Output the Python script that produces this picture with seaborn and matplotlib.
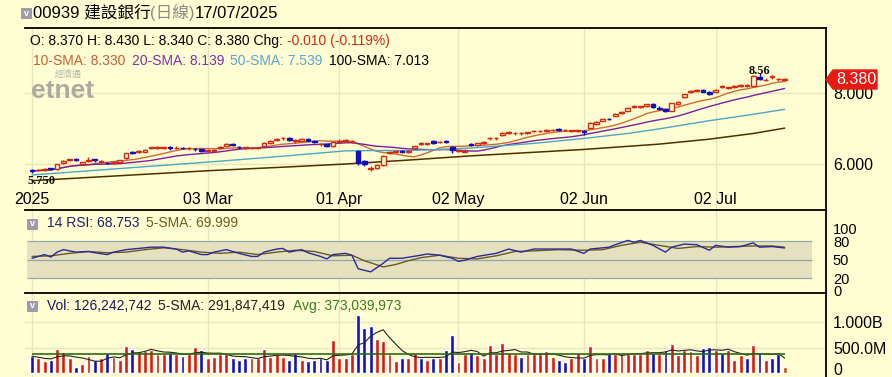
import numpy as np
import pandas as pd
import matplotlib
matplotlib.use("Agg")
import matplotlib.pyplot as plt
import matplotlib.transforms as mtransforms
from matplotlib.patches import Rectangle, Polygon
import seaborn as sns

# ---------------- data ----------------
opens = [5.83,5.82,5.83,5.88,5.86,6.03,6.10,6.14,6.00,6.09,
         6.14,6.06,6.04,6.02,6.05,6.17,6.35,6.33,6.35,6.44,
         6.46,6.46,6.47,6.45,6.46,6.44,6.42,6.41,6.37,6.37,
         6.45,6.52,6.56,6.48,6.46,6.45,6.45,6.50,6.58,6.67,
         6.72,6.73,6.65,6.66,6.70,6.66,6.56,6.55,6.50,6.62,
         6.64,6.62,6.38,6.08,5.87,5.90,5.97,6.30,6.35,6.38,
         6.34,6.44,6.56,6.55,6.64,6.62,6.66,6.48,6.37,6.35,
         6.57,6.54,6.58,6.72,6.73,6.82,6.88,6.86,6.87,6.88,
         6.92,6.93,6.94,6.95,6.99,6.95,6.92,6.92,6.94,7.00,
         7.12,7.22,7.28,7.36,7.43,7.50,7.61,7.61,7.62,7.70,
         7.58,7.55,7.50,7.68,7.88,8.03,8.07,8.09,8.03,8.04,
         8.18,8.13,8.18,8.21,8.20,8.20,8.44,8.36,8.46,8.39,
         8.37]
closes = [5.80,5.83,5.86,5.85,5.99,6.08,6.13,6.10,6.05,6.10,
          6.10,6.06,6.03,6.06,6.10,6.30,6.31,6.38,6.40,6.47,
          6.46,6.46,6.45,6.46,6.44,6.44,6.41,6.37,6.40,6.39,
          6.49,6.56,6.53,6.47,6.46,6.45,6.45,6.60,6.64,6.70,
          6.72,6.69,6.65,6.71,6.66,6.61,6.56,6.50,6.63,6.66,
          6.67,6.65,6.04,6.00,5.88,5.97,6.23,6.34,6.35,6.33,
          6.38,6.50,6.58,6.58,6.60,6.62,6.61,6.40,6.37,6.38,
          6.53,6.58,6.62,6.72,6.73,6.86,6.88,6.86,6.87,6.88,
          6.92,6.93,6.97,6.97,6.95,6.95,6.95,6.95,6.90,7.16,
          7.19,7.26,7.26,7.41,7.46,7.57,7.61,7.61,7.68,7.60,
          7.56,7.49,7.71,7.75,7.96,8.06,8.07,8.04,7.97,8.08,
          8.18,8.16,8.18,8.21,8.20,8.48,8.40,8.38,8.46,8.39,
          8.38]
highs = [5.85,5.86,5.88,5.90,6.00,6.10,6.15,6.16,6.07,6.20,
         6.15,6.10,6.07,6.08,6.12,6.32,6.37,6.40,6.42,6.49,
         6.50,6.49,6.50,6.50,6.48,6.47,6.45,6.43,6.42,6.42,
         6.51,6.58,6.58,6.52,6.49,6.48,6.48,6.62,6.67,6.73,
         6.76,6.75,6.70,6.73,6.72,6.68,6.60,6.57,6.66,6.70,
         6.70,6.68,6.40,6.10,5.95,6.00,6.25,6.37,6.38,6.40,
         6.40,6.52,6.62,6.60,6.67,6.65,6.68,6.50,6.40,6.41,
         6.59,6.60,6.65,6.77,6.77,6.89,6.92,6.90,6.90,6.91,
         6.96,6.97,6.99,6.99,7.01,6.99,6.97,6.97,6.97,7.18,
         7.22,7.28,7.30,7.43,7.48,7.60,7.65,7.64,7.70,7.73,
         7.62,7.58,7.73,7.78,7.98,8.08,8.12,8.12,8.06,8.10,
         8.22,8.18,8.22,8.25,8.24,8.50,8.56,8.41,8.50,8.42,
         8.43]
lows = [5.75,5.79,5.81,5.83,5.84,6.01,6.08,6.08,5.98,6.05,
        6.07,6.02,6.00,6.00,6.03,6.15,6.29,6.31,6.33,6.42,
        6.42,6.42,6.40,6.42,6.42,6.40,6.38,6.35,6.35,6.35,
        6.43,6.50,6.51,6.43,6.43,6.42,6.42,6.48,6.56,6.65,
        6.68,6.66,6.60,6.64,6.64,6.58,6.52,6.47,6.48,6.60,
        6.62,6.60,5.98,5.95,5.79,5.85,5.95,6.28,6.32,6.30,
        6.32,6.42,6.54,6.53,6.57,6.58,6.58,6.31,6.33,6.33,
        6.50,6.52,6.56,6.68,6.69,6.80,6.84,6.82,6.83,6.85,
        6.89,6.89,6.92,6.93,6.93,6.92,6.90,6.90,6.82,6.98,
        7.10,7.20,7.23,7.34,7.41,7.48,7.57,7.57,7.60,7.58,
        7.53,7.46,7.48,7.66,7.86,8.01,8.03,8.02,7.94,8.02,
        8.13,8.11,8.14,8.17,8.16,8.18,8.38,8.34,8.40,8.35,
        8.34]

# 50/100-day SMA read at sample candles (history before the window is not shown)
ma50_idx = [0, 10, 20, 30, 40, 50, 55, 60, 65, 70, 80, 88, 95, 100, 108, 115, 120]
ma50_val = [5.69, 5.82, 5.95, 6.08, 6.22, 6.37, 6.38, 6.38, 6.41, 6.45, 6.58, 6.72, 6.86, 6.99, 7.22, 7.40, 7.54]
ma100_idx = [0, 10, 20, 28, 40, 50, 60, 70, 80, 88, 100, 108, 115, 120]
ma100_val = [5.53, 5.63, 5.73, 5.81, 5.91, 6.00, 6.11, 6.23, 6.33, 6.41, 6.56, 6.70, 6.86, 7.01]

rsi_idx = [0,2,3,4,5,7,9,10,12,13,15,17,19,21,23,24,25,27,28,29,31,33,35,36,37,39,40,41,43,44,
           46,47,48,50,51,52,54,56,57,59,62,63,65,67,68,69,71,74,76,78,80,83,86,88,89,92,93,95,96,97,
           99,101,102,104,106,108,109,111,113,115,116,118,120]
rsi_val = [52,58,54,62,66,62,63,61,58,62,66,68,70,70,67,62,64,58,58,62,66,60,55,55,62,67,68,62,66,61,
           55,51,58,60,57,35,30,44,52,52,57,59,57,52,47,49,55,60,67,62,67,67,67,60,67,70,74,81,78,81,
           73,62,70,75,74,65,73,70,71,77,70,71,68.75]
rsma_idx = [0,3,6,9,12,15,18,21,24,27,30,33,36,39,42,45,48,51,53,56,58,60,62,65,68,71,74,77,80,84,
            88,91,94,97,100,103,106,109,112,115,118,120]
rsma_val = [55,56,60,63,61,62,66,69,66,62,60,62,58,62,65,63,56,57,48,38,42,48,53,57,52,51,56,63,64,66,
            65,66,73,78,73,68,71,70,71,72,72,70]

volumes = [0.33,0.29,0.24,0.25,0.48,0.42,0.29,0.12,0.17,0.33,
           0.25,0.29,0.40,0.31,0.25,0.53,0.48,0.42,0.44,0.45,
           0.38,0.37,0.40,0.37,0.33,0.37,0.51,0.46,0.29,0.31,
           0.38,0.38,0.30,0.25,0.29,0.29,0.29,0.48,0.31,0.37,
           0.31,0.25,0.40,0.25,0.24,0.26,0.29,0.25,0.65,0.29,
           0.29,0.38,1.14,0.88,0.92,0.67,0.63,0.37,0.24,0.30,
           0.29,0.40,0.29,0.26,0.29,0.29,0.46,0.75,0.22,0.37,
           0.42,0.35,0.29,0.55,0.38,0.59,0.40,0.38,0.31,0.38,
           0.38,0.37,0.43,0.31,0.26,0.22,0.29,0.40,0.29,0.53,
           0.29,0.30,0.37,0.38,0.38,0.38,0.38,0.38,0.45,0.40,
           0.38,0.46,0.57,0.35,0.46,0.44,0.35,0.50,0.52,0.46,
           0.40,0.45,0.26,0.35,0.29,0.55,0.42,0.26,0.30,0.37,
           0.126]
vol_dir = ("brrbrrrbrr" "brbrrrbrrr" "rrbrbrrbrr" "rrbbbrrrrr" "rbbrbbbbrr"
           "rrbbbrrrrb" "rrbrbrbbrr" "brrrrrrrbr" "rrrrbbrrbr" "rrbrrrrrrb"
           "rbrrrrrbbr" "brrrbrbrbb" "o")
vol_avg = 0.373

date_idx = [0, 28, 49, 68, 88, 109]
date_lab = ["2025", "03 Mar", "01 Apr", "02 May", "02 Jun", "02 Jul"]

# ---------------- style ----------------
W, H = 892, 377
BG = "#FFFED2"
GRID = "#E9E6BE"
RED = "#D42A10"
BLUE = "#1010B4"

sns.set_style("white")
plt.rcParams['font.family'] = ['Liberation Sans', 'Noto Sans CJK TC', 'DejaVu Sans']

fig = plt.figure(figsize=(W / 100, H / 100), dpi=100, facecolor=BG)

def rect(top, bottom, left=25, right=826):
    return [left / W, 1 - bottom / H, (right - left) / W, (bottom - top) / H]

axp = fig.add_axes(rect(28, 210))
axr = fig.add_axes(rect(210, 293))
axv = fig.add_axes(rect(293, 377))

XL = (-1.12, 126.6)
for ax in (axp, axr, axv):
    ax.set_facecolor(BG)
    ax.set_xlim(*XL)
    ax.set_xticks([])
    for s in ("left", "bottom"):
        ax.spines[s].set_visible(False)
    for s in ("top", "right"):
        ax.spines[s].set_visible(True)
        ax.spines[s].set_color("black")
        ax.spines[s].set_linewidth(1.3)
    ax.yaxis.tick_right()
    ax.tick_params(axis="y", length=0, pad=5, labelsize=11.5, labelcolor="black")
    for d in date_idx:
        ax.axvline(d, color=GRID, lw=1, zorder=0)

df = pd.DataFrame({"idx": np.arange(len(closes)), "open": opens, "high": highs,
                   "low": lows, "close": closes, "vol": volumes})

# ---------------- price pane ----------------
axp.set_ylim(4.704, 9.831)
axp.set_yticks([6, 8])
axp.set_yticklabels(["6.000", "8.000"])
for v in (6, 8):
    axp.axhline(v, color=GRID, lw=1, zorder=0)

up = df["close"] >= df["open"]
ecol = [RED if u else BLUE for u in up]
fcol = [BG if u else BLUE for u in up]
axp.vlines(df["idx"], df["low"], df["high"], colors=ecol, lw=1, zorder=3)
body_bot = np.minimum(df["open"], df["close"])
body_h = np.maximum((df["close"] - df["open"]).abs(), 0.012)
axp.bar(df["idx"], body_h, bottom=body_bot, width=0.75, color=fcol,
        edgecolor=ecol, linewidth=1, zorder=4)

df["ma10"] = df["close"].rolling(10, min_periods=1).mean()
df["ma20"] = df["close"].rolling(20, min_periods=1).mean()
sns.lineplot(x=df["idx"], y=df["ma10"], ax=axp, color="#D06A34", lw=1, zorder=2)
sns.lineplot(x=df["idx"], y=df["ma20"], ax=axp, color="#7A1FA0", lw=1, zorder=2)
sns.lineplot(x=ma50_idx, y=ma50_val, ax=axp, color="#4CA6C8", lw=1, zorder=2)
sns.lineplot(x=ma100_idx, y=ma100_val, ax=axp, color="#4E3000", lw=1.1, zorder=2)
axp.set_xlabel(""); axp.set_ylabel("")
axp.set_xlim(*XL)

# high / low annotations
imax = int(df["high"].idxmax()); imin = int(df["low"].idxmin())
axp.text(imax, df["high"][imax] + 0.07, f"{df['high'][imax]:.2f}", ha="center", va="center",
         fontsize=9, fontweight="bold", family="Liberation Serif", color="#111111", zorder=6)
axp.text(imin - 0.8, df["low"][imin] - 0.22, f"{df['low'][imin]:.3f}", ha="left", va="center",
         fontsize=9, fontweight="bold", family="Liberation Serif", color="#111111", zorder=6)

# date labels inside the price pane
tb = mtransforms.blended_transform_factory(axp.transData, axp.transAxes)
for d, lab in zip(date_idx, date_lab):
    axp.text(d, 0.055, lab, transform=tb, ha="center", va="center", fontsize=11.5, color="black")

# last price tag
last = closes[-1]
tt = mtransforms.blended_transform_factory(axp.transAxes, axp.transData)
hh = 9.5 / 35.5
pw = 1 / 801
tag = Polygon([(1.0, last), (1 + 7 * pw, last + hh), (1 + 51 * pw, last + hh),
               (1 + 51 * pw, last - hh), (1 + 7 * pw, last - hh)], closed=True,
              transform=tt, facecolor="#E61A12", edgecolor="#E61A12", clip_on=False, zorder=10)
axp.add_patch(tag)
axp.text(1 + 30 * pw, last, f"{last:.3f}", transform=tt, ha="center", va="center",
         color="white", fontsize=11.5, clip_on=False, zorder=11)

# ---------------- RSI pane ----------------
axr.set_ylim(-4.3, 130.3)
axr.set_yticks([0, 20, 50, 80, 100])
axr.set_yticklabels(["0", "20", "50", "80", "100"])
axr.tick_params(axis="y", labelsize=10.5)
band_x = [-0.8, 124.4]
axr.fill_between(band_x, 20, 80, color="#E5E1BF", zorder=0.5, lw=0)
axr.hlines([20, 50, 80], band_x[0], band_x[1], colors="#8FA8AA", lw=0.9, zorder=1)
sns.lineplot(x=rsma_idx, y=rsma_val, ax=axr, color="#6A5A20", lw=1, zorder=3)
sns.lineplot(x=rsi_idx, y=rsi_val, ax=axr, color="#2A2A9A", lw=1, zorder=4)
axr.set_xlabel(""); axr.set_ylabel("")
axr.set_xlim(*XL)

# ---------------- volume pane ----------------
axv.set_ylim(-0.078, 1.569)
axv.set_yticks([0.085, 0.5, 1.0])
axv.set_yticklabels(["0", "500.0M", "1.000B"])
for v in (0.5, 1.0):
    axv.axhline(v, color=GRID, lw=1, zorder=0)
cmap = {"r": "#DD1A0A", "b": "#1212B8", "o": "#C4501A"}
vcols = [cmap[c] for c in vol_dir]
axv.bar(df["idx"], df["vol"], width=0.62, color=vcols, zorder=2)
df["vsma"] = df["vol"].rolling(5, min_periods=1).mean()
sns.lineplot(x=df["idx"], y=df["vsma"], ax=axv, color="#222222", lw=0.8, zorder=3)
axv.hlines(vol_avg, 0, len(volumes) - 1, colors="#2E6B12", lw=1.2, zorder=3)
axv.set_xlabel(""); axv.set_ylabel("")
axv.set_xlim(*XL)

# ---------------- header texts ----------------
def ftxt(x, y, s, **kw):
    kw.setdefault("va", "center")
    kw.setdefault("ha", "left")
    fig.text(x / W, 1 - y / H, s, **kw)

def checkbox(x, y, s):
    fig.add_artist(Rectangle((x / W, 1 - (y + s) / H), s / W, s / H, transform=fig.transFigure,
                             facecolor="#9E9CAA", edgecolor="#8A8898", lw=0.5))
    ftxt(x + s / 2, y + s / 2, "v", ha="center", color="white", fontsize=6.5, fontweight="bold")

checkbox(21, 8, 10)
ftxt(33, 13, "00939 建設銀行", fontsize=12, color="black")
ftxt(150, 13, "(日線)", fontsize=12, color="#8A8A8A")
ftxt(195, 13, "17/07/2025", fontsize=12, color="black")

ftxt(30, 41, "O: 8.370 H: 8.430 L: 8.340 C: 8.380 Chg:", fontsize=10, color="black")
ftxt(287, 41, "-0.010 (-0.119%)", fontsize=10, color="#D0281A")
ftxt(33, 61, "10-SMA: 8.330", fontsize=10, color="#D05A3A")
ftxt(132, 61, "20-SMA: 8.139", fontsize=10, color="#8030A8")
ftxt(230, 61, "50-SMA: 7.539", fontsize=10, color="#5AA4D4")
ftxt(329, 61, "100-SMA: 7.013", fontsize=10, color="black")

# logo
ftxt(68, 75, "經濟通", ha="center", fontsize=6.5, color="#B4B4AE")
ftxt(63, 91, "etnet", ha="center", fontsize=19, fontweight="bold", color="#ABABA4")

checkbox(27, 219, 10)
ftxt(47, 223, "14 RSI: 68.753", fontsize=10, color="#22226A")
ftxt(146, 223, "5-SMA: 69.999", fontsize=10, color="#6E5E1E")

checkbox(27, 301, 10)
ftxt(47, 306, "Vol: 126,242,742", fontsize=10, color="#1A1A5A")
ftxt(158, 306, "5-SMA: 291,847,419", fontsize=10, color="#222222")
ftxt(293, 306, "Avg: 373,039,973", fontsize=10, color="#3F7A1E")

fig.savefig("out.png", dpi=100, facecolor=BG)
